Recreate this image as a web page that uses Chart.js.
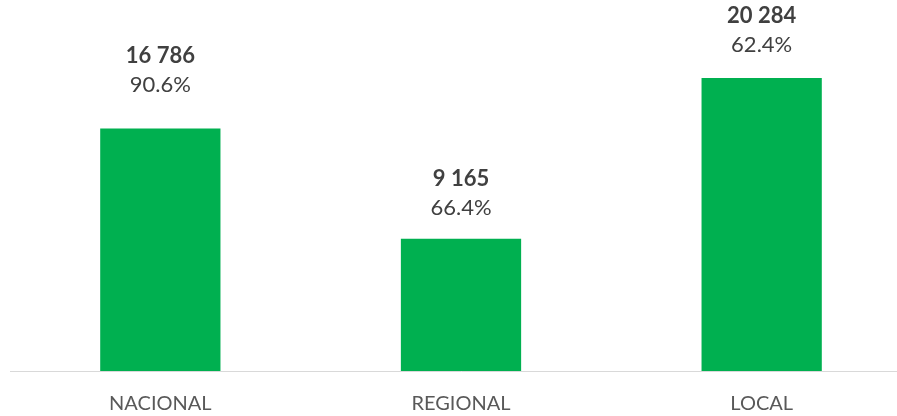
<!DOCTYPE html>
<html>
<head>
<meta charset="utf-8">
<script src="https://cdn.jsdelivr.net/npm/chart.js@4/dist/chart.umd.min.js"></script>
<style>
  html, body { margin: 0; padding: 0; background: #fff; overflow: hidden; }
  #wrap { width: 912px; height: 416px; }
</style>
</head>
<body>
<div id="wrap"><canvas id="chart" width="912" height="416"></canvas></div>
<script>
const categories = ['NACIONAL', 'REGIONAL', 'LOCAL'];
const totals = [16786, 9165, 20284];
const shares = ['90.6%', '66.4%', '62.4%'];

const FONT = 'Lato, "Open Sans", sans-serif';
// how far above each bar top the label block sits (px), as in the original
const labelLift = [73, 60, 62];

// draws the two-line label (bold total + percentage) over each bar
const barLabels = {
  id: 'barLabels',
  afterDatasetsDraw(chart) {
    const ctx = chart.ctx;
    const meta = chart.getDatasetMeta(0);
    ctx.save();
    ctx.textAlign = 'center';
    ctx.textBaseline = 'middle';
    meta.data.forEach((bar, i) => {
      const y = bar.y - labelLift[i];
      ctx.fillStyle = '#404040';
      ctx.font = 'bold 22px ' + FONT;
      ctx.fillText(totals[i].toLocaleString('fr-FR').replace(/\s/g, ' '), bar.x, y);
      ctx.font = '22px ' + FONT;
      ctx.fillText(shares[i], bar.x, y + 29);
    });
    ctx.restore();
  }
};

new Chart(document.getElementById('chart'), {
  type: 'bar',
  data: {
    labels: categories,
    datasets: [{
      data: totals,
      backgroundColor: '#00b050',
      barPercentage: 0.4,
      categoryPercentage: 1,
    }],
  },
  options: {
    responsive: false,
    animation: false,
    layout: { padding: { top: 10, left: 10, right: 0, bottom: 0 } },
    plugins: {
      legend: { display: false },
      tooltip: { enabled: false },
    },
    scales: {
      x: {
        grid: { display: false, drawTicks: false },
        border: { color: '#d9d9d9', width: 1 },
        ticks: { color: '#595959', padding: 21, font: { family: FONT, size: 20 } },
        afterFit: (scale) => { scale.height = 45; },
      },
      y: {
        display: false,
        min: 0,
        max: 25000,
      },
    },
  },
  plugins: [barLabels],
});
</script>
</body>
</html>
